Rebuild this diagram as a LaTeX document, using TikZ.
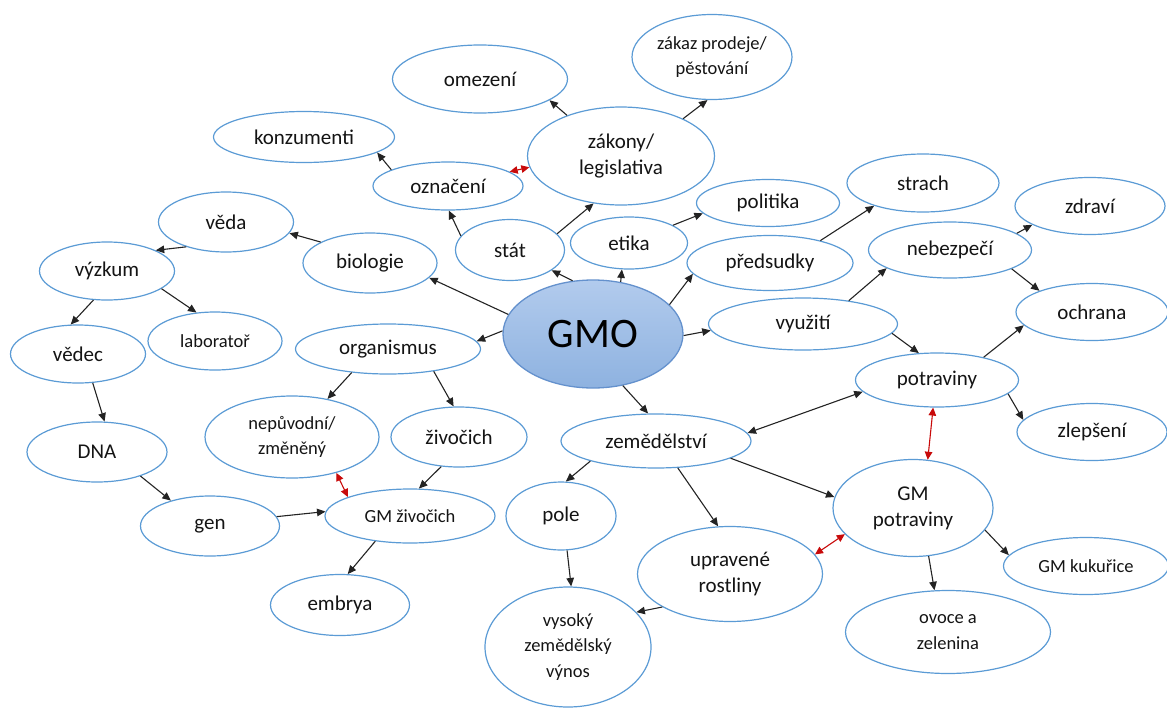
\documentclass[tikz,border=0pt]{standalone}
\usepackage{fontspec}
\setmainfont{Carlito}
\usetikzlibrary{shapes.geometric,arrows.meta}
\definecolor{ringblue}{RGB}{91,155,213}
\definecolor{gmoedge}{RGB}{100,145,205}
\definecolor{gmotop}{RGB}{178,203,237}
\definecolor{gmobottom}{RGB}{142,178,224}
\definecolor{linkgray}{RGB}{35,35,35}
\definecolor{linkred}{RGB}{200,10,10}
\definecolor{labelink}{RGB}{20,20,20}
\tikzset{
  bubble/.style={ellipse, draw=ringblue, line width=1.2pt, fill=white, inner sep=0pt,
    text=labelink, align=center, font=\fontsize{21}{26}\selectfont},
  smallbubble/.style={bubble, font=\fontsize{18.5}{25.5}\selectfont},
  hub/.style={ellipse, draw=gmoedge, line width=1.3pt, inner sep=0pt,
    top color=gmotop, bottom color=gmobottom, text=black, font=\fontsize{42}{48}\selectfont},
  link/.style={draw=linkgray, line width=1.1pt, -{Triangle[length=8.5pt,width=7.5pt]}},
  twolink/.style={draw=linkgray, line width=1.1pt, {Triangle[length=8.5pt,width=7.5pt]}-{Triangle[length=8.5pt,width=7.5pt]}},
  redlink/.style={draw=linkred, line width=1.1pt, {Triangle[length=8pt,width=7.5pt]}-{Triangle[length=8pt,width=7.5pt]}},
}
\newcommand{\bub}[6][bubble]{%
  \node[#1, minimum width=#4pt, minimum height=#5pt] (#2) at #3 {#6};}
\begin{document}
\begin{tikzpicture}[x=1pt,y=-1pt]
\useasboundingbox (0,0) rectangle (1167,707);

% concept nodes
\bub[smallbubble]{zakaz}{(712,57)}{160}{85}{zákaz prodeje/\\pěstování}
\bub{omezeni}{(480,79)}{175}{68}{omezení}
\bub{zakony}{(621,156)}{187}{98}{zákony/\\legislativa}
\bub{konzumenti}{(304,137)}{181}{51}{konzumenti}
\bub{oznaceni}{(448,186)}{150}{48}{označení}
\bub{politika}{(768,203)}{143}{47}{politika}
\bub{strach}{(923,183)}{152}{58}{strach}
\bub{zdravi}{(1090,206)}{150}{57}{zdraví}
\bub{veda}{(226,222)}{135}{60}{věda}
\bub{stat}{(510,250)}{109}{61}{stát}
\bub{etika}{(629,243)}{117}{52}{etika}
\bub{predsudky}{(770,263)}{166}{55}{předsudky}
\bub{nebezpeci}{(950,250)}{163}{56}{nebezpečí}
\bub{biologie}{(370,263)}{134}{60}{biologie}
\bub{vyzkum}{(107,271)}{135}{58}{výzkum}
\bub{ochrana}{(1092,312)}{152}{57}{ochrana}
\bub{vyuziti}{(803,324)}{189}{52}{využití}
\bub{vedec}{(78,354)}{135}{58}{vědec}
\bub[smallbubble]{laborator}{(215,341)}{134}{58}{laboratoř}
\bub{organismus}{(388,349)}{185}{50}{organismus}
\bub{potraviny}{(937,380)}{163}{54}{potraviny}
\bub{zlepseni}{(1092,432)}{150}{57}{zlepšení}
\bub[smallbubble]{nepuvodni}{(292,437)}{174}{82}{nepůvodní/\\změněný}
\bub{zivocich}{(459,437)}{136}{60}{živočich}
\bub{DNA}{(97,452)}{140}{60}{DNA}
\bub{zemedelstvi}{(656,441)}{190}{54}{zemědělství}
\bub{gen}{(210,526)}{139}{60}{gen}
\bub[smallbubble]{gmzivocich}{(410,516)}{170}{54}{GM živočich}
\bub{pole}{(561,516)}{110}{68}{pole}
\bub{gmpotraviny}{(913,508)}{160}{97}{GM\\potraviny}
\bub{upravene}{(730,574)}{185}{95}{upravené\\rostliny}
\bub[smallbubble]{kukurice}{(1086,566)}{165}{57}{GM kukuřice}
\bub{embrya}{(340,605)}{139}{61}{embrya}
\bub[smallbubble]{vysoky}{(568,647)}{166}{120}{vysoký\\zemědělský\\výnos}
\bub[smallbubble]{ovoce}{(948,632)}{205}{83}{ovoce a\\zelenina}

% central hub
\node[hub, minimum width=180pt, minimum height=108pt] (gmo) at (593,334) {GMO};

% links out of the hub
\draw[link] (gmo.111) -- (stat.-26);
\draw[link] (gmo.62) -- (etika.-105);
\draw[link] (gmo.21) -- (predsudky.-172);
\draw[link] (gmo.-1) -- (vyuziti.-176);
\draw[link] (gmo.178) -- (organismus.5);
\draw[link] (gmo.167) -- (biologie.-14);
\draw[link] (gmo.-60) -- (zemedelstvi.106);

% state and law branch
\draw[link] (zakony.143) -- (omezeni.-17);
\draw[link] (zakony.31) -- (zakaz.-96);
\draw[redlink] (oznaceni.13) -- (zakony.-173);
\draw[link] (oznaceni.164) -- (konzumenti.-12);
\draw[link] (stat.164) -- (oznaceni.-88);
\draw[link] (stat.19) -- (zakony.-120);

% science branch
\draw[link] (biologie.157) -- (veda.-10);
\draw[link] (veda.-148) -- (vyzkum.23);
\draw[link] (vyzkum.-115) -- (vedec.104);
\draw[link] (vyzkum.-18) -- (laborator.123);
\draw[link] (vedec.-63) -- (DNA.76);
\draw[link] (DNA.-29) -- (gen.147);
\draw[link] (gen.8) -- (gmzivocich.177);

% organism branch
\draw[link] (organismus.-147) -- (nepuvodni.47);
\draw[link] (organismus.-26) -- (zivocich.100);
\draw[link] (zivocich.-121) -- (gmzivocich.72);
\draw[redlink] (nepuvodni.-39) -- (gmzivocich.163);
\draw[link] (gmzivocich.-144) -- (embrya.76);

% ethics, prejudice and use
\draw[link] (etika.22) -- (politika.-171);
\draw[link] (predsudky.24) -- (strach.-155);
\draw[link] (vyuziti.27) -- (nebezpeci.-164);
\draw[link] (nebezpeci.14) -- (zdravi.-162);
\draw[link] (nebezpeci.-17) -- (ochrana.158);
\draw[link] (vyuziti.-6) -- (potraviny.124);
\draw[link] (potraviny.26) -- (ochrana.-169);
\draw[link] (potraviny.-11) -- (zlepseni.170);

% agriculture branch
\draw[twolink] (zemedelstvi.5) -- (potraviny.-171);
\draw[redlink] (potraviny.-98) -- (gmpotraviny.73);
\draw[link] (zemedelstvi.-13) -- (gmpotraviny.172);
\draw[redlink] (upravene.13) -- (gmpotraviny.-159);
\draw[link] (zemedelstvi.197) -- (pole.82);
\draw[link] (zemedelstvi.-51) -- (upravene.104);
\draw[link] (pole.-80) -- (vysoky.87);
\draw[link] (upravene.-154) -- (vysoky.27);
\draw[link] (gmpotraviny.-17) -- (kukurice.172);
\draw[link] (gmpotraviny.-72) -- (ovoce.108);
\end{tikzpicture}
\end{document}
